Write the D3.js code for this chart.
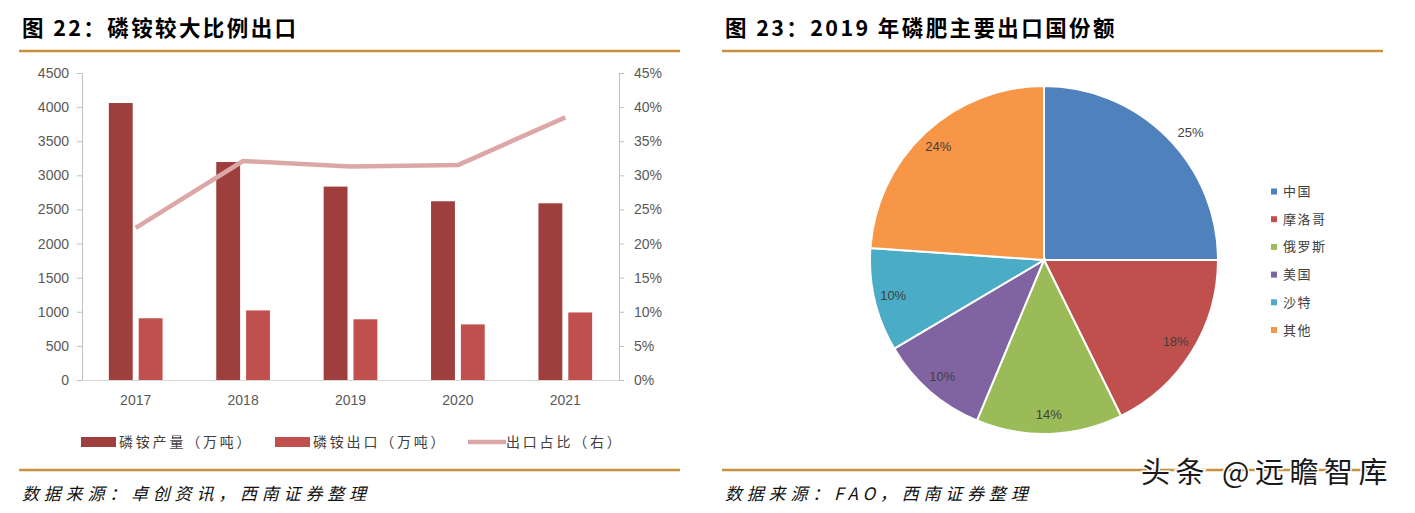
<!DOCTYPE html>
<html>
<head>
<meta charset="utf-8">
<script src="https://cdn.jsdelivr.net/npm/d3@7"></script>
<style>
  html, body { margin: 0; padding: 0; background: #fff; }
  svg { display: block; }
</style>
</head>
<body>
<svg id="chart" width="1415" height="513"></svg>
<script>
// ---------- data ----------
const years = ["2017", "2018", "2019", "2020", "2021"];
const production = [4060, 3195, 2835, 2620, 2590];   // 磷铵产量（万吨）
const exportsVol = [905, 1020, 890, 815, 990];       // 磷铵出口（万吨）
const exportRatio = [0.223, 0.321, 0.313, 0.315, 0.385]; // 出口占比（右）
const leftTicks = [0, 500, 1000, 1500, 2000, 2500, 3000, 3500, 4000, 4500];
const rightTicks = [0, 0.05, 0.10, 0.15, 0.20, 0.25, 0.30, 0.35, 0.40, 0.45];
const barSeries = ["磷铵产量（万吨）", "磷铵出口（万吨）"];
const lineSeries = "出口占比（右）";

const countries = ["中国", "摩洛哥", "俄罗斯", "美国", "沙特", "其他"];
const shares = [25.0, 17.7, 13.6, 10.2, 9.6, 23.9];

const title1 = "图 22：磷铵较大比例出口";
const title2 = "图 23：2019 年磷肥主要出口国份额";
const source1 = "数据来源：卓创资讯，西南证券整理";
const source2 = "数据来源：FAO，西南证券整理";
const watermark = "头条 @远瞻智库";

// ---------- styles ----------
const barColors = ["#9e3f3d", "#c0504d"];
const lineColor = "#dca8a7";
const pieColors = ["#4f81bd", "#c0504d", "#9bbb59", "#8064a2", "#4bacc6", "#f79646"];
const gold = "#c8913f";
const tickColor = "#595959";
const numFont = "'Liberation Sans', Arial, sans-serif";
const cjkFont = "'Noto Sans CJK SC', sans-serif";

const svg = d3.select("#chart");

// ---------- headers / footers ----------
function header(x, x2, text) {
  svg.append("text").attr("x", x).attr("y", 36)
    .attr("font-family", cjkFont).attr("font-weight", "bold")
    .attr("font-size", 21.5).attr("letter-spacing", "2.4px").attr("fill", "#000")
    .text(text);
  svg.append("line").attr("x1", x - 3).attr("x2", x2).attr("y1", 51).attr("y2", 51)
    .attr("stroke", gold).attr("stroke-width", 2.5);
}
function footer(x, x2, text) {
  svg.append("line").attr("x1", x - 3).attr("x2", x2).attr("y1", 470).attr("y2", 470)
    .attr("stroke", gold).attr("stroke-width", 2.5);
  svg.append("text").attr("x", x).attr("y", 500)
    .attr("font-family", cjkFont).attr("font-style", "italic")
    .attr("font-size", 17).attr("letter-spacing", "4.8px").attr("fill", "#111")
    .text(text);
}
header(22, 680, title1);
header(725, 1383, title2);
footer(22, 680, source1);
footer(725, 1383, source2);

// ---------- left combo chart ----------
const plotL = 82, plotR = 619, plotT = 73, plotB = 380;
const x0 = d3.scaleBand().domain(years).range([plotL, plotR]).paddingInner(0.5).paddingOuter(0.25);
const x1 = d3.scaleBand().domain([0, 1]).range([0, x0.bandwidth()]).paddingInner(0.2);
const yL = d3.scaleLinear().domain([0, 4500]).range([plotB, plotT]);
const yR = d3.scaleLinear().domain([0, 0.45]).range([plotB, plotT]);

// axes
const axL = svg.append("g").attr("transform", `translate(${plotL},0)`)
  .call(d3.axisLeft(yL).tickValues(leftTicks).tickSize(5).tickPadding(8).tickFormat(d3.format("d")));
const axR = svg.append("g").attr("transform", `translate(${plotR},0)`)
  .call(d3.axisRight(yR).tickValues(rightTicks).tickSize(5).tickPadding(10).tickFormat(d3.format(".0%")));
[axL, axR].forEach(a => {
  a.select(".domain").attr("stroke", "#bfbfbf");
  a.selectAll(".tick line").attr("stroke", "#bfbfbf");
  a.selectAll(".tick text").attr("fill", tickColor).attr("font-size", 14).attr("font-family", numFont);
});

// bars
const barData = [production, exportsVol];
barData.forEach((vals, si) => {
  svg.append("g").selectAll("rect").data(vals).join("rect")
    .attr("x", (d, i) => x0(years[i]) + x1(si))
    .attr("width", x1.bandwidth())
    .attr("y", d => yL(d))
    .attr("height", d => yL(0) - yL(d))
    .attr("fill", barColors[si]);
});

// x axis
const axB = svg.append("g").attr("transform", `translate(0,${plotB})`)
  .call(d3.axisBottom(x0).tickSize(0).tickPadding(15));
axB.select(".domain").attr("stroke", "#d9d9d9").attr("stroke-width", 1.2)
  .attr("d", `M${plotL},0.5H${plotR}`);
axB.selectAll(".tick text").attr("fill", tickColor).attr("font-size", 14).attr("font-family", numFont);

// line
const line = d3.line()
  .x((d, i) => x0(years[i]) + x0.bandwidth() / 2)
  .y(d => yR(d));
svg.append("path").datum(exportRatio)
  .attr("d", line).attr("fill", "none")
  .attr("stroke", lineColor).attr("stroke-width", 4.5).attr("stroke-linejoin", "round");

// legend
const legY = 442;
const legItems = [
  { type: "rect", color: barColors[0], label: barSeries[0], x: 81 },
  { type: "rect", color: barColors[1], label: barSeries[1], x: 275 },
  { type: "line", color: lineColor, label: lineSeries, x: 468 }
];
legItems.forEach(it => {
  if (it.type === "rect") {
    svg.append("rect").attr("x", it.x).attr("y", legY - 5).attr("width", 35).attr("height", 10).attr("fill", it.color);
  } else {
    svg.append("line").attr("x1", it.x).attr("x2", it.x + 38).attr("y1", legY).attr("y2", legY)
      .attr("stroke", it.color).attr("stroke-width", 4.5);
  }
  svg.append("text").attr("x", it.x + 38).attr("y", legY + 5)
    .attr("font-family", cjkFont).attr("font-size", 14).attr("letter-spacing", "2.8px")
    .attr("fill", "#404040").text(it.label);
});

// ---------- pie ----------
const cx = 1044, cy = 260, R = 174;
const pie = d3.pie().sort(null).value(d => d);
const arcs = pie(shares);
const arc = d3.arc().innerRadius(0).outerRadius(R);
const labelArc = d3.arc().innerRadius(155).outerRadius(155);
const gPie = svg.append("g").attr("transform", `translate(${cx},${cy})`);
gPie.selectAll("path").data(arcs).join("path")
  .attr("d", arc).attr("fill", (d, i) => pieColors[i])
  .attr("stroke", "#fff").attr("stroke-width", 2);
const pctFmt = d3.format(".0%");
function labelPos(d) {
  if (d.index === 0) {
    // best-fit label placed just outside the first slice
    const a = (d.startAngle + d.endAngle) / 2 + 0.07;
    const r = 194;
    return [Math.sin(a) * r, -Math.cos(a) * r];
  }
  return labelArc.centroid(d);
}
gPie.selectAll("text").data(arcs).join("text")
  .attr("transform", d => `translate(${labelPos(d)})`)
  .attr("text-anchor", "middle").attr("dy", "0.35em")
  .attr("font-family", numFont).attr("font-size", 13).attr("fill", "#404040")
  .text(d => pctFmt(d.data / 100));

// pie legend
const pl = svg.append("g");
countries.forEach((c, i) => {
  const y = 191.5 + i * 27.7;
  pl.append("rect").attr("x", 1271).attr("y", y - 3).attr("width", 6).attr("height", 6).attr("fill", pieColors[i]);
  pl.append("text").attr("x", 1283).attr("y", y + 4.5)
    .attr("font-family", cjkFont).attr("font-size", 13).attr("letter-spacing", "1.5px")
    .attr("fill", "#404040").text(c);
});

// watermark
svg.append("text").attr("x", 1141).attr("y", 483)
  .attr("font-family", cjkFont).attr("font-size", 29).attr("letter-spacing", "5.5px")
  .attr("fill", "#1a1a1a").attr("stroke", "#fff").attr("stroke-width", 3)
  .attr("paint-order", "stroke")
  .text(watermark);
</script>
</body>
</html>
